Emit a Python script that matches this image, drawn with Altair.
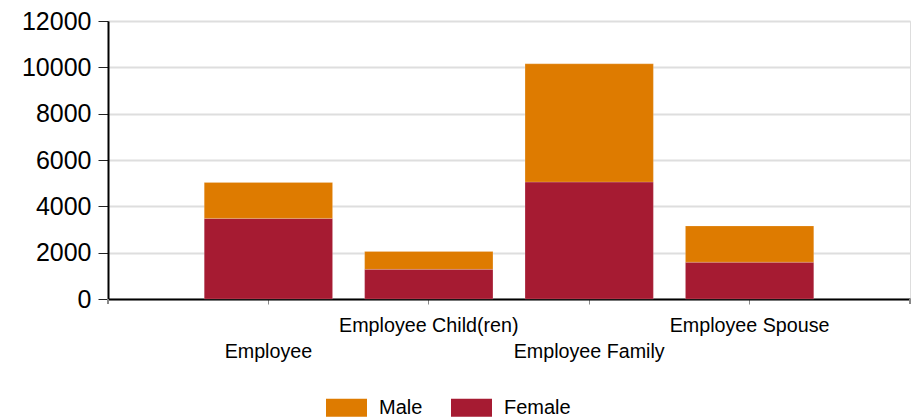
import json
import altair as alt
import pandas as pd

categories = ["Employee", "Employee Child(ren)", "Employee Family", "Employee Spouse"]
female = [3480, 1280, 5050, 1590]
male = [1550, 770, 5100, 1560]
series = ["Female", "Male"]          # stacking order, bottom first
legend_order = ["Male", "Female"]
colors = {"Male": "#DE7B00", "Female": "#A61B32"}
y_ticks = [0, 2000, 4000, 6000, 8000, 10000, 12000]

rows = []
for i, c in enumerate(categories):
    rows.append({"category": c, "gender": "Female", "value": female[i], "rank": 0})
    rows.append({"category": c, "gender": "Male", "value": male[i], "rank": 1})
df = pd.DataFrame(rows)

lower = json.dumps(categories[0::2]).replace('"', "'")
label_expr = f"indexof({lower}, datum.value) >= 0 ? ['', datum.value] : datum.value"

W, H = 802, 278
FONT = "Liberation Sans"

bars = alt.Chart(df).mark_bar(stroke="#ffffff", strokeOpacity=0.35, strokeWidth=0.5).encode(
    x=alt.X("category:N", sort=categories,
            scale=alt.Scale(paddingInner=0.2, paddingOuter=0.6),
            axis=alt.Axis(title=None, labelAngle=0, labelExpr=label_expr,
                          labelFont=FONT, labelFontSize=19.7, labelColor="#000000",
                          labelPadding=11, labelLineHeight=26,
                          domainColor="#000000", domainWidth=2,
                          tickColor="#888888", tickSize=5, tickWidth=1)),
    y=alt.Y("value:Q", stack="zero",
            scale=alt.Scale(domain=[0, 12000], nice=False),
            axis=alt.Axis(title=None, values=y_ticks, format="d", labelFont=FONT, labelFontSize=25,
                          labelColor="#000000", labelPadding=7,
                          domainColor="#000000", domainWidth=2,
                          tickColor="#222222", tickSize=10, tickWidth=1,
                          grid=True, gridColor="#dedede", gridWidth=2)),
    color=alt.Color("gender:N",
                    scale=alt.Scale(domain=legend_order, range=[colors[g] for g in legend_order]),
                    legend=alt.Legend(title=None, orient="none", legendX=218, legendY=366,
                                      direction="horizontal", columns=2, columnPadding=28,
                                      symbolType="M-1,-0.44L1,-0.44L1,0.44L-1,0.44Z",
                                      symbolSize=1681, symbolStrokeWidth=0, labelOffset=12,
                                      labelFont=FONT, labelFontSize=20, labelColor="#000000",
                                      padding=0)),
    order=alt.Order("rank:Q", sort="ascending"),
)

end_left = alt.Chart(df).mark_rule(color="#888888", strokeWidth=1).encode(
    x=alt.value(0), y=alt.value(H), y2=alt.value(H + 5))
end_right = alt.Chart(df).mark_rule(color="#888888", strokeWidth=1).encode(
    x=alt.value(W), y=alt.value(H), y2=alt.value(H + 5))

chart = alt.layer(bars, end_left, end_right).properties(
    width=W, height=H,
    autosize=alt.AutoSizeParams(type="none"),
    padding={"left": 108, "top": 21, "right": 7, "bottom": 120},
).configure_view(stroke=None).configure(background="#ffffff")

chart.save("out.html", embed_options={"renderer": "svg", "actions": False})
